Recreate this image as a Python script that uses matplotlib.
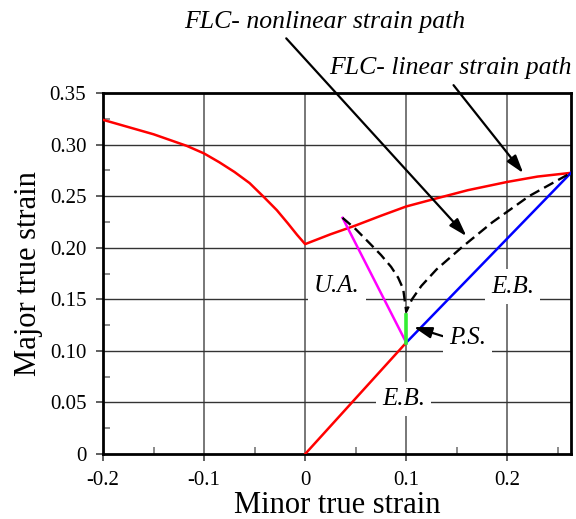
import matplotlib
matplotlib.use("Agg")
import matplotlib.pyplot as plt
from matplotlib.ticker import MultipleLocator

# ---- data ----
flc_x = [-0.2, -0.15, -0.117, -0.1, -0.085, -0.07, -0.055, -0.041, -0.028, -0.017, -0.008, 0.0,
         0.025, 0.05, 0.075, 0.1, 0.126, 0.161, 0.2, 0.23, 0.263]
flc_y = [0.324, 0.310, 0.2987, 0.2914, 0.2829, 0.2735, 0.2627, 0.2493, 0.2364, 0.2235, 0.2125, 0.2035,
         0.213, 0.2216, 0.231, 0.2400, 0.2468, 0.2558, 0.2638, 0.269, 0.2726]

nl_x = [0.037, 0.05, 0.064, 0.075, 0.085, 0.092, 0.097, 0.1,
        0.1057, 0.115, 0.13, 0.1545, 0.185, 0.2215, 0.263]
nl_y = [0.229, 0.218, 0.2041, 0.193, 0.1815, 0.171, 0.160, 0.138,
        0.150, 0.163, 0.179, 0.200, 0.2245, 0.250, 0.2726]

eb_red_x = [0.0, 0.1]
eb_red_y = [0.0, 0.108]
eb_blue_x = [0.1, 0.263]
eb_blue_y = [0.108, 0.2726]
ua_x = [0.037, 0.1]
ua_y = [0.229, 0.108]
ps_x = [0.1, 0.1]
ps_y = [0.108, 0.135]

xticks = [-0.2, -0.1, 0, 0.1, 0.2]
xticklabels = ["-0.2", "-0.1", "0", "0.1", "0.2"]
yticks = [0, 0.05, 0.1, 0.15, 0.2, 0.25, 0.3, 0.35]
yticklabels = ["0", "0.05", "0.10", "0.15", "0.20", "0.25", "0.30", "0.35"]

plt.rcParams['font.family'] = ['Liberation Serif', 'DejaVu Serif']

fig = plt.figure(figsize=(5.76, 5.19), dpi=100)
ax = fig.add_axes([0.1788, 0.1252, 0.9913 - 0.1788, 0.8208 - 0.1252])
ax.set_xlim(-0.2, 0.263)
ax.set_ylim(0, 0.35)

# grid
for gx in [-0.1, 0.0, 0.1, 0.2]:
    ax.axvline(gx, color='#777777', lw=1.4, zorder=0.5)
for gy in [0.05, 0.1, 0.15, 0.2, 0.25, 0.3]:
    ax.axhline(gy, color='#333333', lw=1.0, zorder=0.5)

ax.plot(flc_x, flc_y, color='#ff0000', lw=1.8, zorder=3)
ax.plot(eb_red_x, eb_red_y, color='#ff0000', lw=1.8, zorder=3)
ax.plot(eb_blue_x, eb_blue_y, color='#0000ff', lw=1.8, zorder=3)
ax.plot(ua_x, ua_y, color='#ff00ff', lw=1.8, zorder=3)
ax.plot(ps_x, ps_y, color='#33ee33', lw=2.6, zorder=3.5)
ax.plot(nl_x, nl_y, color='black', lw=1.7, ls=(0, (4.5, 2.3)), zorder=3)

ax.set_xticks(xticks)
ax.set_xticklabels(xticklabels)
ax.set_yticks(yticks)
ax.set_yticklabels(yticklabels)
ax.xaxis.set_minor_locator(MultipleLocator(0.05))
ax.yaxis.set_minor_locator(MultipleLocator(0.025))
ax.tick_params(which='major', direction='out', length=5, width=1.2, labelsize=15, pad=7, color='#444444')
ax.tick_params(which='minor', direction='in', length=5, width=1.2, color='#777777')
for s in ax.spines.values():
    s.set_linewidth(2.0)

ax.set_xlabel("Minor true strain", fontsize=22, labelpad=1)
ax.set_ylabel("Major true strain", fontsize=22, labelpad=5)

bb = dict(boxstyle='square,pad=0.25', fc='white', ec='none')
lab_kw = dict(fontsize=18, style='italic', ha='center', va='center', zorder=2)
ax.text(0.0315, 0.163, "U.A.", bbox=bb, **lab_kw)
ax.text(0.205, 0.1623, "E.B.", bbox=bb, **lab_kw)
ax.text(0.0975, 0.0533, "E.B.", bbox=bb, **lab_kw)

arrow = dict(arrowstyle='-|>,head_length=0.9,head_width=0.28', color='black', lw=1.6,
             shrinkA=0, shrinkB=0, mutation_scale=12)
ax.annotate("P.S.", xy=(0.1074, 0.1231), xytext=(0.1606, 0.1124),
            fontsize=18, style='italic', ha='center', va='center',
            bbox=bb, arrowprops=dict(arrow, relpos=(0, 0.5)), zorder=4, annotation_clip=False)
ax.annotate("", xy=(0.1596, 0.2112), xytext=(-0.0187, 0.403),
            arrowprops=arrow, annotation_clip=False)
ax.annotate("", xy=(0.2158, 0.2723), xytext=(0.1468, 0.3576),
            arrowprops=arrow, annotation_clip=False)
ax.text(0.0197, 0.4186, "FLC- nonlinear strain path", fontsize=18.5, style='italic',
        ha='center', va='center', clip_on=False)
ax.text(0.1438, 0.374, "FLC- linear strain path", fontsize=18.5, style='italic',
        ha='center', va='center', clip_on=False)

fig.savefig("out.png", dpi=100)
